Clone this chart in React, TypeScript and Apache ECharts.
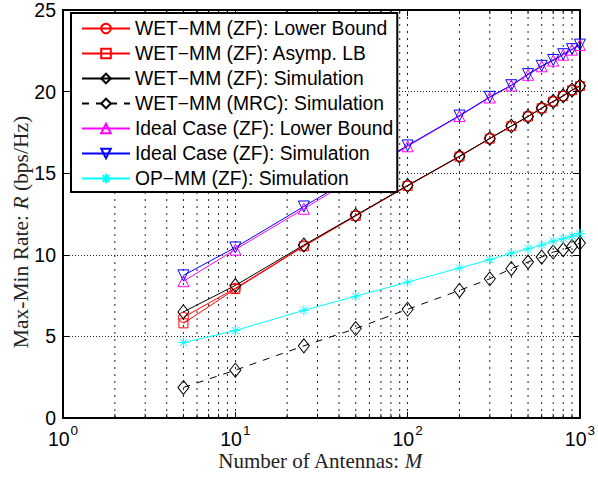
import React, { useEffect, useRef } from "react";
import * as echarts from "echarts";

const antennas = [5, 10, 25, 50, 100, 200, 300, 400, 500, 600, 700, 800, 900, 1000];
const wetLowerBound = [6.17, 7.95, 10.55, 12.4, 14.24, 16.03, 17.13, 17.89, 18.48, 18.99, 19.4, 19.74, 20.09, 20.35];
const wetAsympLB = [5.8, 7.9, 10.52, 12.38, 14.22, 16.02, 17.12, 17.88, 18.47, 18.98, 19.39, 19.73, 20.08, 20.34];
const wetZfSim = [6.5, 8.12, 10.6, 12.42, 14.25, 16.04, 17.13, 17.89, 18.48, 18.99, 19.4, 19.74, 20.09, 20.35];
const wetMrcSim = [1.87, 2.93, 4.42, 5.48, 6.66, 7.82, 8.53, 9.15, 9.56, 9.86, 10.17, 10.31, 10.51, 10.72];
const idealLowerBound = [8.38, 10.32, 12.82, 14.75, 16.65, 18.5, 19.64, 20.37, 21.03, 21.55, 21.9, 22.26, 22.57, 22.85];
const idealSim = [8.74, 10.45, 12.96, 14.85, 16.7, 18.53, 19.68, 20.39, 21.07, 21.58, 21.94, 22.29, 22.6, 22.88];
const opMmSim = [4.62, 5.36, 6.6, 7.46, 8.33, 9.19, 9.7, 10.1, 10.37, 10.6, 10.84, 10.98, 11.14, 11.29];
const minorTicks = [2, 3, 4, 5, 6, 7, 8, 9, 20, 30, 40, 50, 60, 70, 80, 90, 200, 300, 400, 500, 600, 700, 800, 900];
const yTicks = [0, 5, 10, 15, 20, 25];

const names = [
  "WET\u2212MM (ZF): Lower Bound",
  "WET\u2212MM (ZF): Asymp. LB",
  "WET\u2212MM (ZF): Simulation",
  "WET\u2212MM (MRC): Simulation",
  "Ideal Case (ZF): Lower Bound",
  "Ideal Case (ZF): Simulation",
  "OP\u2212MM (ZF): Simulation",
];

const SANS = "'Liberation Sans', Arial, sans-serif";
const SERIF = "'Liberation Serif', 'Times New Roman', serif";
const ASTERISK = "path://M5 0L5 10M0 5L10 5M1.5 1.5L8.5 8.5M1.5 8.5L8.5 1.5";

function mk(name: string, values: number[], color: string, symbol: string, size: any, extra: any = {}) {
  return {
    name,
    type: "line",
    data: antennas.map((m, i) => [m, values[i]]),
    symbol,
    symbolSize: size,
    showSymbol: true,
    lineStyle: { color, width: 1, type: extra.dash ? [7, 7] : "solid" },
    itemStyle: { color: "rgba(0,0,0,0)", borderColor: color, borderWidth: 1 },
    symbolRotate: extra.rotate || 0,
    emphasis: { disabled: true },
    z: 3,
  };
}

export default function App() {
  const ref = useRef<HTMLDivElement>(null);
  useEffect(() => {
    const chart = echarts.init(ref.current!, null, { renderer: "svg" });
    const axisLine = { show: true, onZero: false, lineStyle: { color: "#000", width: 2 } };
    const option: any = {
      animation: false,
      backgroundColor: "#fff",
      grid: { left: 63, right: 14, top: 9, bottom: 62, containLabel: false },
      xAxis: [
        {
          type: "log",
          logBase: 10,
          min: 1,
          max: 1000,
          position: "bottom",
          axisLine,
          axisTick: { show: true, inside: true, length: 6, lineStyle: { color: "#000" } },
          axisLabel: {
            margin: 11,
            formatter: (v: number) => `{a|10}{b|${Math.round(Math.log10(v))}}`,
            rich: {
              a: { fontSize: 19.5, fontFamily: SANS, color: "#000", verticalAlign: "bottom", lineHeight: 20 },
              b: { fontSize: 13.5, fontFamily: SANS, color: "#000", verticalAlign: "bottom", lineHeight: 10, padding: [0, 0, 12, 1] },
            },
          },
          splitLine: { show: true, lineStyle: { color: "#222", type: [2, 5], width: 1 } },
        },
        {
          type: "log",
          logBase: 10,
          min: 1,
          max: 1000,
          position: "top",
          axisLine,
          axisTick: { show: true, inside: true, length: 6, lineStyle: { color: "#000" } },
          axisLabel: { show: false },
          splitLine: { show: false },
        },
      ],
      yAxis: [
        {
          type: "value",
          min: 0,
          max: 25,
          interval: 5,
          axisLine,
          axisTick: { show: true, inside: true, length: 6, lineStyle: { color: "#000" } },
          axisLabel: { fontSize: 19.5, lineHeight: 14, fontFamily: SANS, color: "#000", margin: 7 },
          splitLine: { show: true, lineStyle: { color: "#222", type: [1, 2], width: 1 } },
        },
        {
          type: "value",
          min: 0,
          max: 25,
          interval: 5,
          position: "right",
          axisLine,
          axisTick: { show: true, inside: true, length: 6, lineStyle: { color: "#000" } },
          axisLabel: { show: false },
          splitLine: { show: false },
        },
      ],
      legend: {
        orient: "vertical",
        left: 71,
        top: 13,
        data: names,
        itemWidth: 48,
        itemHeight: 12,
        itemGap: 6,
        padding: [6, 4, 4, 10],
        backgroundColor: "#fff",
        borderColor: "#000",
        borderWidth: 2,
        borderRadius: 0,
        textStyle: { fontSize: 19.3, fontFamily: SANS, color: "#000" },
        selectedMode: false,
        z: 10,
      },
      graphic: [
        {
          type: "text",
          x: 320,
          y: 461,
          style: {
            text: "Number of Antennas: {i|M}",
            fontSize: 21,
            fontFamily: SERIF,
            fill: "#222",
            textAlign: "center",
            textVerticalAlign: "middle",
            rich: { i: { fontStyle: "italic", fontSize: 21, fontFamily: SERIF, fill: "#222" } },
          },
        },
        {
          type: "text",
          x: 21,
          y: 232,
          rotation: Math.PI / 2,
          style: {
            text: "Max-Min Rate: {i|R} (bps/Hz)",
            fontSize: 21.5,
            fontFamily: SERIF,
            fill: "#222",
            textAlign: "center",
            textVerticalAlign: "middle",
            rich: { i: { fontStyle: "italic", fontSize: 21.5, fontFamily: SERIF, fill: "#222" } },
          },
        },
      ],
      series: [
        {
          type: "custom",
          silent: true,
          z: 1,
          xAxisIndex: 0,
          yAxisIndex: 0,
          data: minorTicks.map((v) => [v, 0]),
          encode: { x: 0, y: 1 },
          renderItem: (params: any, api: any) => {
            const v = api.value(0);
            const b = api.coord([v, yTicks[0]]);
            const t = api.coord([v, yTicks[yTicks.length - 1]]);
            return {
              type: "group",
              children: [
                { type: "line", shape: { x1: b[0], y1: b[1], x2: t[0], y2: t[1] }, style: { stroke: "#222", lineWidth: 1, lineDash: [2, 5] } },
                { type: "line", shape: { x1: b[0], y1: b[1], x2: b[0], y2: b[1] - 4 }, style: { stroke: "#000", lineWidth: 1 } },
                { type: "line", shape: { x1: t[0], y1: t[1], x2: t[0], y2: t[1] + 4 }, style: { stroke: "#000", lineWidth: 1 } },
              ],
            };
          },
        },
        mk(names[0], wetLowerBound, "#ff0000", "circle", 10),
        mk(names[1], wetAsympLB, "#ff0000", "rect", 9),
        mk(names[2], wetZfSim, "#000000", "diamond", [11, 14]),
        mk(names[3], wetMrcSim, "#000000", "diamond", [11, 14], { dash: true }),
        mk(names[4], idealLowerBound, "#ff00ff", "triangle", 11),
        mk(names[5], idealSim, "#0000ff", "triangle", 11, { rotate: 180 }),
        mk(names[6], opMmSim, "#00ffff", ASTERISK, 10),
      ],
    };
    chart.setOption(option);
    return () => chart.dispose();
  }, []);
  return <div ref={ref} style={{ position: "fixed", left: 0, top: 0, width: 598, height: 480 }} />;
}
